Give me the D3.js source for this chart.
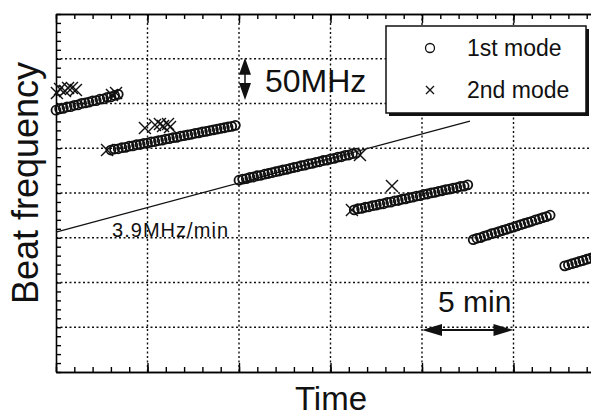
<!DOCTYPE html>
<html>
<head>
<meta charset="utf-8">
<script src="https://cdn.jsdelivr.net/npm/d3@7"></script>
<style>
  body { margin: 0; background: #fff; }
  svg { display: block; }
  text { font-family: "Liberation Sans", Arial, sans-serif; fill: #111; }
</style>
</head>
<body>
<div id="chart"></div>
<script>
// time in minutes, beat frequency in MHz (offset arbitrary)
const mode1 = [
  // run 1
  [0.0, 292.5], [0.2, 294.0], [0.4, 294.6], [0.6, 296.2], [0.8, 296.5], [1.0, 298.0],
  [1.2, 298.4], [1.4, 300.1], [1.6, 300.6], [1.8, 301.5], [2.0, 303.0], [2.2, 303.2],
  [2.4, 304.8], [2.6, 305.1], [2.8, 306.9], [3.0, 307.3], [3.2, 309.0], [3.4, 310.2],
  // run 2
  [3.0, 248.0], [3.2, 249.1], [3.4, 249.4], [3.6, 250.6], [3.8, 251.0], [4.0, 252.3],
  [4.2, 252.6], [4.4, 253.9], [4.6, 254.2], [4.8, 255.5], [5.0, 255.8], [5.2, 257.1],
  [5.4, 257.5], [5.6, 258.6], [5.8, 259.0], [6.0, 260.3], [6.2, 260.7], [6.4, 261.9],
  [6.6, 262.2], [6.8, 263.5], [7.0, 264.0], [7.2, 265.0], [7.4, 265.6], [7.6, 266.7],
  [7.8, 267.2], [8.0, 268.3], [8.2, 268.9], [8.4, 269.8], [8.6, 270.6], [8.8, 271.4],
  [9.0, 272.2], [9.2, 272.9], [9.4, 273.8], [9.6, 274.4], [9.8, 275.6],
  // run 3
  [10.0, 214.3], [10.2, 215.5], [10.4, 216.0], [10.6, 217.4], [10.8, 217.9], [11.0, 219.3],
  [11.2, 219.8], [11.4, 221.0], [11.6, 221.8], [11.8, 222.7], [12.0, 223.8], [12.2, 224.6],
  [12.4, 225.7], [12.6, 226.4], [12.8, 227.6], [13.0, 228.5], [13.2, 229.3], [13.4, 230.6],
  [13.6, 231.1], [13.8, 232.5], [14.0, 233.0], [14.2, 234.3], [14.4, 234.9], [14.6, 236.3],
  [14.8, 236.8], [15.0, 238.2], [15.2, 238.6], [15.4, 240.1], [15.6, 240.5], [15.8, 242.0],
  [16.0, 242.4], [16.2, 243.9], [16.4, 244.5],
  // run 4
  [16.3, 181.2], [16.5, 182.4], [16.7, 182.8], [16.9, 184.1], [17.1, 184.6], [17.3, 185.9],
  [17.5, 186.4], [17.7, 187.6], [17.9, 188.0], [18.1, 189.5], [18.3, 189.8], [18.5, 191.3],
  [18.7, 191.6], [18.9, 193.0], [19.1, 193.5], [19.3, 194.7], [19.5, 195.3], [19.7, 196.6],
  [19.9, 197.0], [20.1, 198.4], [20.3, 198.9], [20.5, 200.2], [20.7, 200.7], [20.9, 201.9],
  [21.1, 202.5], [21.3, 203.7], [21.5, 204.3], [21.7, 205.5], [21.9, 206.0], [22.1, 207.3],
  [22.3, 207.7], [22.5, 209.1],
  // run 5
  [22.8, 147.8], [23.0, 149.4], [23.2, 150.2], [23.4, 151.9], [23.6, 152.9], [23.8, 154.6],
  [24.0, 155.4], [24.2, 156.8], [24.4, 158.1], [24.6, 159.3], [24.8, 160.8], [25.0, 161.9],
  [25.2, 163.3], [25.4, 164.6], [25.6, 165.9], [25.8, 167.2], [26.0, 168.4], [26.2, 169.9],
  [26.4, 171.0], [26.6, 172.5], [26.8, 173.6], [27.0, 175.2],
  // run 6
  [27.8, 118.6], [28.0, 119.8], [28.2, 121.0], [28.4, 122.1], [28.6, 123.5], [28.8, 124.6],
  [29.0, 126.0], [29.2, 127.1], [29.4, 128.5]
];

const mode2 = [
  [0.05, 311.7], [0.22, 316.2], [0.49, 314.0], [0.66, 317.3], [0.87, 317.3], [1.09, 315.1],
  [3.06, 309.5], [3.28, 311.7],
  [2.79, 248.0], [4.86, 272.6], [5.41, 276.0], [5.68, 277.1], [5.85, 274.9], [6.12, 277.1],
  [6.23, 273.7],
  [16.61, 242.5],
  [16.17, 181.0], [18.36, 207.8]
];

// drift fit line, annotated 3.9MHz/min
const fitLine = [[0, 156.4], [22.62, 280.4]];

const xMajor = d3.range(0, 31, 5),
      xMinor = d3.range(0, 31, 1),
      yMajor = d3.range(0, 401, 50),
      yMinor = d3.range(0, 401, 10);

const width = 591, height = 417;
const plot = {left: 56, top: 14, bottom: 372, right: 605};

const x = d3.scaleLinear().domain([0, 30]).range([plot.left, plot.right]);
const y = d3.scaleLinear().domain([0, 400]).range([plot.bottom, plot.top]);

const svg = d3.select("#chart").append("svg")
    .attr("width", width)
    .attr("height", height);

// dotted grid
const grid = svg.append("g")
    .attr("stroke", "#111")
    .attr("stroke-width", 1.4)
    .attr("stroke-dasharray", "2,2.5");

grid.selectAll(".vg")
    .data(xMajor.filter(function(d) { return d > 0; }))
    .join("line")
    .attr("x1", function(d) { return x(d); })
    .attr("x2", function(d) { return x(d); })
    .attr("y1", plot.top)
    .attr("y2", plot.bottom);

grid.selectAll(".hg")
    .data(yMajor.filter(function(d) { return d > 0 && d < 400; }))
    .join("line")
    .attr("x1", plot.left)
    .attr("x2", plot.right)
    .attr("y1", function(d) { return y(d); })
    .attr("y2", function(d) { return y(d); });

// axes, ticks pointing inward, no labels
function styleAxis(g) {
    g.selectAll("text").remove();
    g.select(".domain").attr("stroke-width", 1.6);
    g.selectAll(".tick line").attr("stroke-width", 1.4);
}

svg.append("g").attr("transform", `translate(0,${plot.bottom})`)
    .call(d3.axisBottom(x).tickValues(xMinor).tickSize(-5).tickSizeOuter(0))
    .call(styleAxis);
svg.append("g").attr("transform", `translate(0,${plot.bottom})`)
    .call(d3.axisBottom(x).tickValues(xMajor).tickSize(-9).tickSizeOuter(0))
    .call(styleAxis);
svg.append("g").attr("transform", `translate(0,${plot.top})`)
    .call(d3.axisTop(x).tickValues(xMinor).tickSize(-5).tickSizeOuter(0))
    .call(styleAxis);
svg.append("g").attr("transform", `translate(0,${plot.top})`)
    .call(d3.axisTop(x).tickValues(xMajor).tickSize(-9).tickSizeOuter(0))
    .call(styleAxis);
svg.append("g").attr("transform", `translate(${plot.left},0)`)
    .call(d3.axisLeft(y).tickValues(yMinor).tickSize(-5).tickSizeOuter(0))
    .call(styleAxis);

// fit line
const line = d3.line()
    .x(function(d) { return x(d[0]); })
    .y(function(d) { return y(d[1]); });

svg.append("path")
    .datum(fitLine)
    .attr("d", line)
    .attr("fill", "none")
    .attr("stroke", "#111")
    .attr("stroke-width", 1.3);

// 1st mode circles
svg.append("g")
    .selectAll("circle")
    .data(mode1)
    .join("circle")
    .attr("cx", function(d) { return x(d[0]); })
    .attr("cy", function(d) { return y(d[1]); })
    .attr("r", 4.5)
    .attr("fill", "none")
    .attr("stroke", "#111")
    .attr("stroke-width", 1.8);

// 2nd mode crosses
const cross = 6;
svg.append("g")
    .selectAll("path")
    .data(mode2)
    .join("path")
    .attr("transform", function(d) { return `translate(${x(d[0])},${y(d[1])})`; })
    .attr("d", `M${-cross},${-cross}L${cross},${cross}M${-cross},${cross}L${cross},${-cross}`)
    .attr("stroke", "#111")
    .attr("stroke-width", 1.4)
    .attr("fill", "none");

svg.append("text")
    .attr("x", 112)
    .attr("y", 237)
    .attr("font-size", 20)
    .attr("textLength", 116)
    .text("3.9MHz/min");

// 50 MHz scale arrow
const ax = 245, a1 = y(351), a2 = y(304);
svg.append("path")
    .attr("d", `M${ax},${a1}L${ax - 6},${a1 + 17}L${ax + 6},${a1 + 17}Z` +
               `M${ax},${a2}L${ax - 6},${a2 - 17}L${ax + 6},${a2 - 17}Z`)
    .attr("fill", "#111");
svg.append("line")
    .attr("x1", ax).attr("x2", ax)
    .attr("y1", a1 + 16).attr("y2", a2 - 16)
    .attr("stroke", "#111").attr("stroke-width", 1.5);
svg.append("text")
    .attr("x", 265)
    .attr("y", 92)
    .attr("font-size", 32)
    .text("50MHz");

// 5 min scale arrow
const bx1 = x(20), bx2 = x(25), by = y(47);
svg.append("line")
    .attr("x1", bx1 + 16).attr("x2", bx2 - 16)
    .attr("y1", by).attr("y2", by)
    .attr("stroke", "#111").attr("stroke-width", 2);
svg.append("path")
    .attr("d", `M${bx1},${by}L${bx1 + 20},${by - 6}L${bx1 + 20},${by + 6}Z` +
               `M${bx2},${by}L${bx2 - 20},${by - 6}L${bx2 - 20},${by + 6}Z`)
    .attr("fill", "#111");
svg.append("text")
    .attr("x", 438)
    .attr("y", 312)
    .attr("font-size", 30)
    .text("5 min");

// legend with drop shadow
const lg = svg.append("g").attr("transform", "translate(386,26)");
lg.append("rect")
    .attr("x", 3).attr("y", 3)
    .attr("width", 200).attr("height", 87)
    .attr("fill", "#111");
lg.append("rect")
    .attr("width", 200).attr("height", 87)
    .attr("fill", "#fff")
    .attr("stroke", "#111")
    .attr("stroke-width", 1.5);
lg.append("circle")
    .attr("cx", 44).attr("cy", 22).attr("r", 4.5)
    .attr("fill", "none").attr("stroke", "#111").attr("stroke-width", 1.3);
lg.append("path")
    .attr("d", "M40,60L48,68M40,68L48,60")
    .attr("stroke", "#111").attr("stroke-width", 1.3);
lg.append("text").attr("x", 81).attr("y", 30).attr("font-size", 23).text("1st mode");
lg.append("text").attr("x", 81).attr("y", 72).attr("font-size", 23).text("2nd mode");

// axis titles
svg.append("text")
    .attr("transform", "translate(38,183) rotate(-90)")
    .attr("text-anchor", "middle")
    .attr("font-size", 36)
    .text("Beat frequency");

svg.append("text")
    .attr("x", 331)
    .attr("y", 410)
    .attr("text-anchor", "middle")
    .attr("font-size", 33)
    .text("Time");
</script>
</body>
</html>
